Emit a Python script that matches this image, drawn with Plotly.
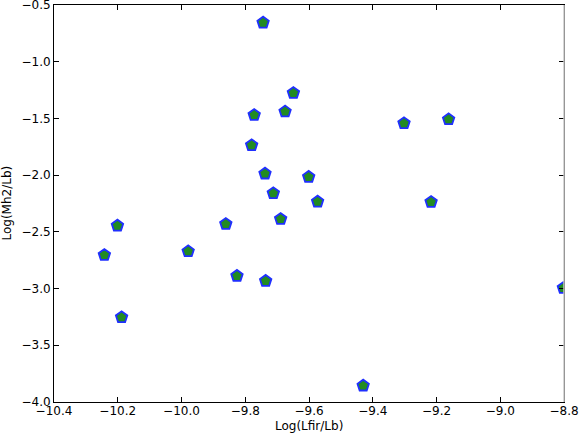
import plotly.graph_objects as go

# Log(Lfir/Lb) and Log(Mh2/Lb)
log_lfir_lb = [-9.744, -9.649, -9.675, -9.772, -9.780, -9.738, -9.712, -9.689,
               -9.861, -10.201, -10.242, -9.979, -9.826, -9.736, -10.188, -9.430,
               -8.802, -9.302, -9.162, -9.601, -9.573, -9.217]
log_mh2_lb = [-0.656, -1.276, -1.440, -1.470, -1.737, -1.987, -2.160, -2.387,
              -2.431, -2.446, -2.704, -2.672, -2.889, -2.933, -3.253, -3.856,
              -2.995, -1.543, -1.508, -2.016, -2.234, -2.237]

x_ticks = [-10.4, -10.2, -10.0, -9.8, -9.6, -9.4, -9.2, -9.0, -8.8]
y_ticks = [-4.0, -3.5, -3.0, -2.5, -2.0, -1.5, -1.0, -0.5]


def minus_labels(vals):
    return ['{:.1f}'.format(v).replace('-', '\u2212') for v in vals]


fig = go.Figure()
fig.add_trace(go.Scatter(
    x=log_lfir_lb, y=log_mh2_lb,
    mode='markers',
    marker=dict(symbol='pentagon', size=12, color='#228b22',
                line=dict(color='#1f2fff', width=1.8)),
    cliponaxis=True,
    showlegend=False,
))

axis_common = dict(
    showgrid=False, zeroline=False,
    showline=True, linecolor='black', linewidth=1,
    ticks='inside', ticklen=5, tickcolor='black', tickwidth=1,
    mirror='ticks',
    tickfont=dict(family='DejaVu Sans', size=12, color='black'),
    automargin=False,
    ticklabeloverflow='allow',
)
fig.update_xaxes(range=[-10.4, -8.8], tickvals=x_ticks,
                 ticktext=minus_labels(x_ticks), ticklabelstandoff=-2,
                 **axis_common)
fig.update_yaxes(range=[-4.0, -0.5], tickvals=y_ticks,
                 ticktext=minus_labels(y_ticks), **axis_common)

# right spine is drawn lighter in the original
fig.add_shape(type='line', xref='paper', yref='paper', x0=1, x1=1, y0=0, y1=1,
              line=dict(color='#c8c8c8', width=1.5), layer='above')

fig.add_annotation(text='Log(Lfir/Lb)', xref='paper', yref='paper', x=0.5, y=0,
                   yshift=-24, xanchor='center', yanchor='middle', showarrow=False,
                   font=dict(family='DejaVu Sans', size=12, color='black'))
fig.add_annotation(text='Log(Mh2/Lb)', xref='paper', yref='paper', x=0, y=0.5,
                   xshift=-48, xanchor='center', yanchor='middle', showarrow=False,
                   textangle=-90,
                   font=dict(family='DejaVu Sans', size=12, color='black'))

fig.update_layout(
    width=579, height=434,
    margin=dict(l=54, r=15, t=5, b=32, pad=0),
    plot_bgcolor='white', paper_bgcolor='white',
    font=dict(family='DejaVu Sans', size=12, color='black'),
)

# drop the page's default body margin so the figure sits at the window corner
fig.write_html("out.html", config={'displayModeBar': False},
               post_script="document.body.style.margin='0';")
